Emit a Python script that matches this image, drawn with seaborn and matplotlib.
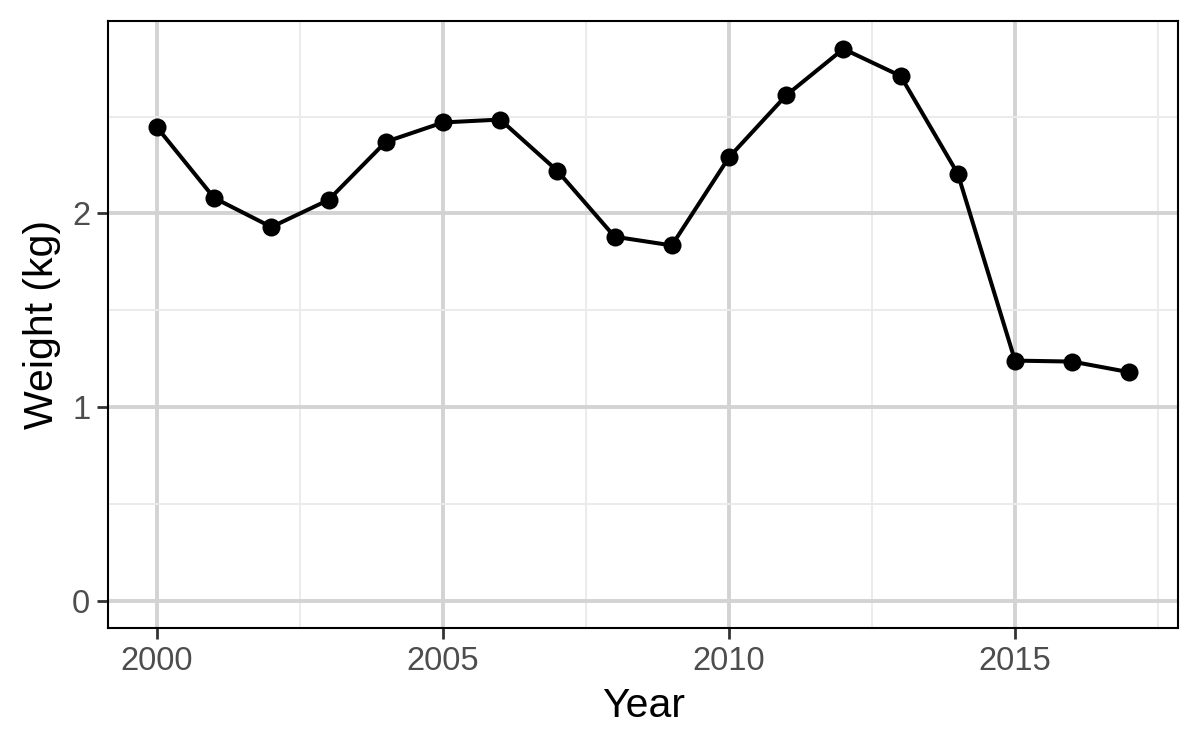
import matplotlib
matplotlib.use("Agg")
import matplotlib.pyplot as plt
import seaborn as sns
import pandas as pd
from matplotlib.ticker import MultipleLocator

# Data
years = [2000, 2001, 2002, 2003, 2004, 2005, 2006, 2007, 2008,
         2009, 2010, 2011, 2012, 2013, 2014, 2015, 2016, 2017]
weight = [2.445, 2.08, 1.93, 2.07, 2.37, 2.47, 2.485, 2.22, 1.88,
          1.835, 2.29, 2.61, 2.85, 2.71, 2.205, 1.24, 1.235, 1.18]

df = pd.DataFrame({"Year": years, "Weight": weight})

sns.set_theme(style="white")
plt.rcParams["font.family"] = ["Liberation Sans", "DejaVu Sans"]

fig, ax = plt.subplots(figsize=(12, 7.5), dpi=100)
fig.subplots_adjust(left=0.0903, right=0.9817, top=0.9716, bottom=0.1623)

sns.lineplot(data=df, x="Year", y="Weight", color="black", linewidth=2.9,
             marker="o", markersize=13, markeredgewidth=0, ax=ax, zorder=3)

ax.set_xlim(1999.15, 2017.85)
ax.set_ylim(-0.1425, 2.9925)
ax.xaxis.set_major_locator(MultipleLocator(5))
ax.xaxis.set_minor_locator(MultipleLocator(2.5))
ax.yaxis.set_major_locator(MultipleLocator(1))
ax.yaxis.set_minor_locator(MultipleLocator(0.5))

ax.grid(which="major", color="#d3d3d3", linewidth=2.8)
ax.grid(which="minor", color="#ebebeb", linewidth=1.4)
ax.set_axisbelow(True)

for s in ax.spines.values():
    s.set_color("black")
    s.set_linewidth(1.5)

ax.tick_params(axis="both", which="major", length=8, width=2.0, color="#333333",
               labelsize=23.5, labelcolor="#4d4d4d", pad=5, bottom=True, left=True)
ax.tick_params(axis="both", which="minor", length=0)

ax.set_xlabel("Year", fontsize=29.5, color="black", labelpad=7)
ax.set_ylabel("Weight (kg)", fontsize=29.5, color="black", labelpad=8)

fig.savefig("out.png", dpi=100, facecolor="white")
